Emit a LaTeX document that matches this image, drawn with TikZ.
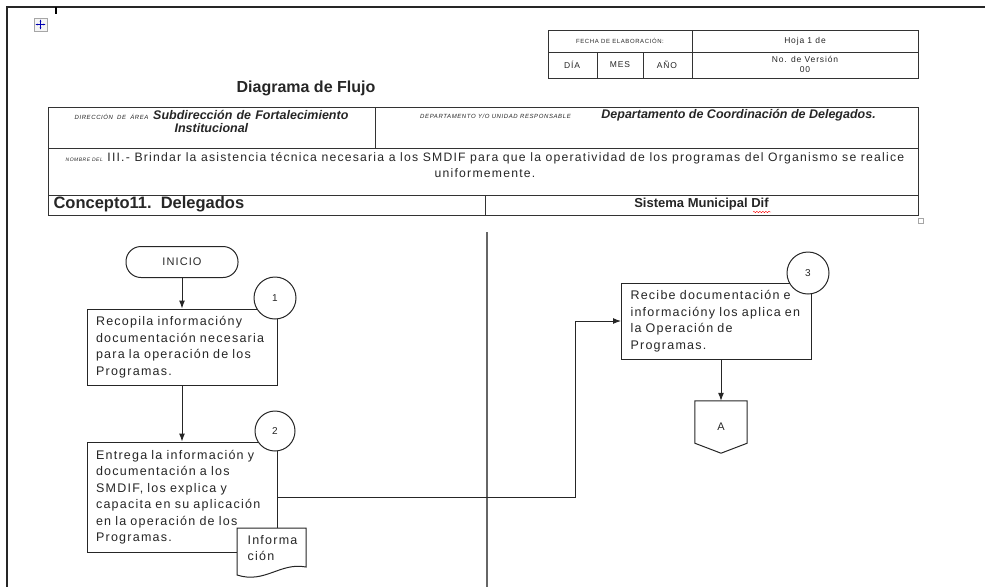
\documentclass[tikz,border=0pt]{standalone}
\usepackage{fontspec}
\setmainfont{Liberation Sans}
\newfontfamily\wordfont{Liberation Sans}[LetterSpace=10]
\newfontfamily\capsfont{Liberation Sans}[LetterSpace=10]
\usetikzlibrary{arrows,arrows.meta,decorations.pathmorphing,positioning}
\newcommand{\tagtxt}[1]{{\capsfont\fontsize{6}{7}\selectfont\itshape #1}}

\begin{document}
\begin{tikzpicture}[
	x=1pt, y=-1pt,
	>={Latex[length=8pt,width=6pt]},
	every node/.style={text=black!85},
	frame/.style={draw=black!80, line width=1pt},
	proc/.style={
		rectangle,
		draw=black!85,
		line width=1pt,
		fill=white,
		text width=172pt,
		inner xsep=9pt,
		align=left,
		font=\wordfont\fontsize{12.5}{16.5}\selectfont
		},
	num/.style={
		circle,
		draw=black!85,
		line width=1pt,
		fill=white,
		minimum size=42pt,
		inner sep=0pt,
		font=\fontsize{10}{12}\selectfont
		},
	term/.style={
		rectangle,
		rounded corners=15pt,
		draw=black!85,
		line width=1pt,
		minimum width=112pt,
		minimum height=31pt,
		font=\wordfont\fontsize{11}{13}\selectfont
		},
	flow/.style={->, draw=black!85, line width=1pt},
	small/.style={font=\wordfont\fontsize{8.5}{10}\selectfont}
]
\useasboundingbox (0,0) rectangle (985,587);

% Page
\draw[black!85, line width=1.5pt] (985,7) -- (7,7) -- (7,587);
\draw[black, line width=2pt] (56,7) -- (56,14);
\draw[gray!70, fill=gray!8] (34,18) rectangle (47,31);
\draw[{Stealth[length=2pt]}-{Stealth[length=2pt]}, blue!70!black, line width=0.6pt] (35.5,24.5) -- (45.5,24.5);
\draw[{Stealth[length=2pt]}-{Stealth[length=2pt]}, blue!70!black, line width=0.6pt] (40.5,19.5) -- (40.5,29.5);

% Hoja
\draw[frame] (548,30) rectangle (918,78);
\draw[frame] (548,52) -- (918,52) (692,30) -- (692,78) (597,52) -- (597,78) (643,52) -- (643,78);
\node[font=\capsfont\fontsize{6}{7}\selectfont] (fecha) at (620,41) {FECHA DE ELABORACIÓN:};
\node[small] (hoja) at (805,41) {Hoja 1 de};
\node[small] (dia) at (572,65) {DÍA};
\node[small] (mes) at (620,65) {MES};
\node[small] (anio) at (667,65) {AÑO};
\node[small, align=center] (version) at (805,64) {No. de Versión\\00};

\node[font=\bfseries\fontsize{16}{18}\selectfont] (titulo) at (306,88) {Diagrama de Flujo};

% Encabezado
\draw[frame] (48,107) rectangle (918,215);
\draw[frame] (48,148) -- (918,148) (48,195) -- (918,195) (375,107) -- (375,148) (485,195) -- (485,215);
\node[align=center, text width=320pt, font=\fontsize{12.5}{13.5}\selectfont] (area) at (211.5,121.5)
	{\tagtxt{DIRECCIÓN DE ÁREA} \textbf{\textit{Subdirección de Fortalecimiento}}\\\textbf{\textit{Institucional}}};
\node[font=\fontsize{12.5}{13.5}\selectfont] (depto) at (648,115)
	{\tagtxt{DEPARTAMENTO Y/O UNIDAD RESPONSABLE}\hspace{30pt}\textbf{\textit{Departamento de Coordinación de Delegados.}}};
\node[align=center, font=\wordfont\fontsize{12.2}{16}\selectfont] (nombre) at (485,165)
	{{\capsfont\fontsize{5}{6}\selectfont\itshape NOMBRE DEL} III.- Brindar la asistencia técnica necesaria a los SMDIF para que la operatividad de los programas del Organismo se realice\\uniformemente.};
\node[anchor=west, font=\bfseries\fontsize{16.5}{18}\selectfont] (concepto) at (50,204) {Concepto11.\ \ Delegados};
\node[font=\bfseries\fontsize{13}{15}\selectfont] (sistema) at (701.5,204) {Sistema Municipal Dif};
\draw[red, decorate, decoration={snake, amplitude=0.7pt, segment length=3pt}] (753,212) -- (771,212);
\draw[gray!70] (918,218) rectangle (923,223);

% Carril
\draw[black!60, line width=1.5pt] (487,232) -- (487,587);

% Procesos
\node[term] (inicio) at (182,262) {INICIO};
\node[proc, minimum height=76pt] (p1) at (182,347)
	{Recopila informacióny\\documentación necesaria\\para la operación de los\\Programas.};
\node[num] (c1) at (275,298) {1};
\node[proc, minimum height=110pt] (p2) at (182,497)
	{Entrega la información y\\documentación a los\\SMDIF, los explica y\\capacita en su aplicación\\en la operación de los\\Programas.};
\node[num, minimum size=40pt] (c2) at (275,431) {2};
\node[proc, minimum height=76pt] (p3) at (716.5,321)
	{Recibe documentación e\\informacióny los aplica en\\la Operación de\\Programas.};
\node[num] (c3) at (808,273) {3};

% Documento
\draw[black!85, line width=1pt, fill=white] (237,528) -- (306,528) -- (306,567)
	.. controls (280,562) and (265,584) .. (237,575) -- cycle;
\node[anchor=west, align=left, font=\wordfont\fontsize{12.5}{16.5}\selectfont] (info) at (244,548) {Informa\\ción};

% Conector A
\node[minimum width=52pt, minimum height=52pt, inner sep=0pt, font=\wordfont\fontsize{11}{13}\selectfont] (offA) at (721,427) {A};
\draw[black!85, line width=1pt] (offA.north west) -- (offA.north east) -- ([yshift=10pt]offA.south east)
	-- (offA.south) -- ([yshift=10pt]offA.south west) -- cycle;

% Flechas
\draw[flow] (inicio) -- (p1);
\draw[flow] (p1) -- (p2);
\draw[flow] (p2.east) -- ++(298,0) |- (p3.west);
\draw[flow] (p3.south -| offA.north) -- (offA.north);

\end{tikzpicture}
\end{document}
